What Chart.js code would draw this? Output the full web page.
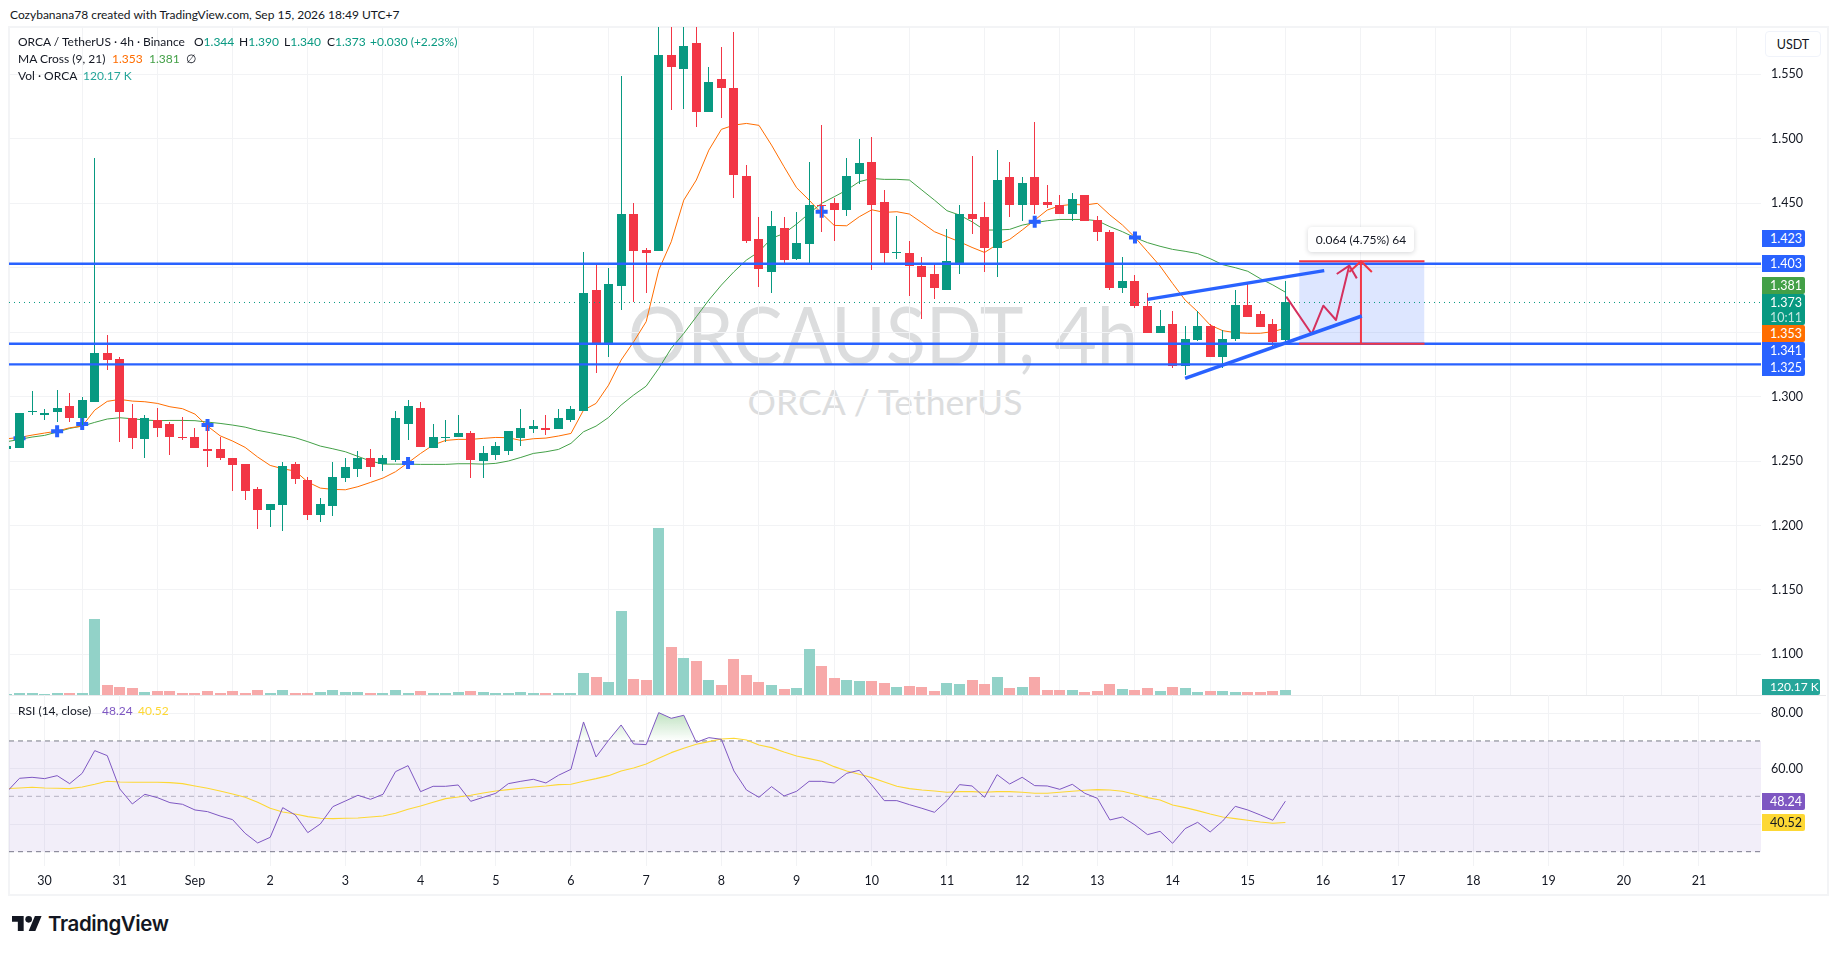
<!DOCTYPE html>
<html>
<head>
<meta charset="utf-8">
<title>ORCAUSDT 4h</title>
<script src="https://cdn.jsdelivr.net/npm/chart.js"></script>
<style>
html, body { margin: 0; background: #fff; overflow: hidden; }
body { width: 1835px; height: 954px; position: relative; font-family: Lato, sans-serif; font-size: 12px; color: #131722; }
canvas { position: absolute; left: 9px; z-index: 2; }
.t { position: absolute; white-space: nowrap; z-index: 3; line-height: 16px; }
.frame { position: absolute; left: 8px; top: 26px; width: 1817px; height: 866px; border: 2px solid #f3f4f6; z-index: 1; }
.sep { position: absolute; left: 9px; top: 695px; width: 1817px; height: 1px; background: #e9eaec; z-index: 1; }
.mark { position: absolute; z-index: 0; white-space: nowrap; color: #dcddde; transform: translateX(-50%); }
.tag { position: absolute; left: 1762px; z-index: 4; color: #fff; font-size: 12.5px; text-align: left; padding-left: 8px; box-sizing: border-box; height: 17px; line-height: 17px; width: 43px; border-radius: 0 2px 2px 0; white-space: nowrap; }
.usdt { position: absolute; left: 1765px; top: 31px; width: 56px; height: 26px; line-height: 26px; box-sizing: border-box; border: 1px solid #f0f3fa; border-radius: 4px; font-size: 12.5px; text-align: center; z-index: 4; background: #fff; }
.tip { position: absolute; left: 1308px; top: 227px; width: 106px; height: 25px; line-height: 25px; text-align: center; background: #fff; border-radius: 4px; box-shadow: 0 1px 5px rgba(19,23,34,.18); font-size: 12px; z-index: 5; }
.logo { position: absolute; left: 12px; top: 916px; z-index: 3; }
.brand { position: absolute; left: 48px; top: 911px; font-family: Inter, sans-serif; font-weight: 600; font-size: 20.5px; line-height: 26px; letter-spacing: -0.4px; color: #131722; z-index: 3; }
.g { color: #089981; } .o { color: #ff6d00; } .m { color: #43a047; } .v { color: #26a69a; } .p { color: #7e57c2; } .y { color: #fdd835; }
</style>
</head>
<body>
<div class="frame"></div>
<div class="sep"></div>

<div class="t" style="left:10px;top:7px">Cozybanana78 created with TradingView.com, Sep 15, 2026 18:49 UTC+7</div>

<div class="t" style="left:18px;top:34px">ORCA / TetherUS · 4h · Binance</div>
<div class="t" style="left:194px;top:34px">O<span class="g">1.344</span></div>
<div class="t" style="left:239px;top:34px">H<span class="g">1.390</span></div>
<div class="t" style="left:284px;top:34px">L<span class="g">1.340</span></div>
<div class="t" style="left:327px;top:34px">C<span class="g">1.373</span></div>
<div class="t g" style="left:370px;top:34px">+0.030 (+2.23%)</div>
<div class="t" style="left:18px;top:51px">MA Cross (9, 21)</div>
<div class="t o" style="left:112px;top:51px">1.353</div>
<div class="t m" style="left:149px;top:51px">1.381</div>
<div class="t" style="left:186px;top:51px">∅</div>
<div class="t" style="left:18px;top:68px">Vol · ORCA</div>
<div class="t v" style="left:83px;top:68px">120.17 K</div>
<div class="t" style="left:18px;top:703px">RSI (14, close)</div>
<div class="t p" style="left:102px;top:703px">48.24</div>
<div class="t y" style="left:138px;top:703px">40.52</div>

<div class="mark" style="left:883px;top:286px;font-size:74px;line-height:96px;transform:translateX(-50%) scaleY(1.08)">ORCAUSDT, 4h</div>
<div class="mark" style="left:885px;top:379px;font-size:35.5px;line-height:46px">ORCA / TetherUS</div>

<div class="usdt">USDT</div>
<div class="tag" style="top:230px;background:#2962ff">1.423</div>
<div class="tag" style="top:255px;background:#2962ff">1.403</div>
<div class="tag" style="top:277px;background:#43a047">1.381</div>
<div class="tag" style="top:294px;height:31px;background:#089981;line-height:15px;padding-top:1px">1.373<br><span style="opacity:.75">10:11</span></div>
<div class="tag" style="top:325px;background:#ff6d00">1.353</div>
<div class="tag" style="top:342px;background:#2962ff">1.341</div>
<div class="tag" style="top:359px;background:#2962ff">1.325</div>
<div class="tag" style="top:679px;width:58px;height:16px;line-height:16px;font-size:12px;background:#26a69a">120.17 K</div>
<div class="tag" style="top:793px;background:#7e57c2">48.24</div>
<div class="tag" style="top:814px;background:#fdd835;color:#131722">40.52</div>
<div class="tip">0.064 (4.75%) 64</div>

<svg class="logo" width="30" height="15" viewBox="0 4 36 18"><path fill="#131722" d="M14 22H7V11H0V4h14v18zM28 22h-8l7.5-18h8L28 22z"/><circle fill="#131722" cx="20" cy="8" r="4"/></svg>
<div class="brand">TradingView</div>

<canvas id="mainPane" width="1817" height="668" style="top:27px"></canvas>
<canvas id="rsiPane" width="1817" height="198" style="top:695px"></canvas>

<script>
const GREEN = "#089981";
const RED = "#f23645";
const BLUE = "#2962ff";
const GRID = "#f2f3f5";

// one bar every 4h, index 0 is the midnight of Aug 30
const FIRST_BAR = -3;
const X_MIN = -2.84;
const X_MAX = 136.95;

const dayTicks = ["30","31","Sep","2","3","4","5","6","7","8","9","10","11","12","13","14","15","16","17","18","19","20","21"];

const opens = [1.259,1.260,1.288,1.286,1.288,1.293,1.283,1.296,1.334,1.329,1.283,1.267,1.282,1.279,1.269,1.269,1.259,1.259,1.252,1.248,1.228,1.212,1.216,1.248,1.235,1.208,1.215,1.237,1.244,1.252,1.248,1.251,1.279,1.291,1.260,1.268,1.269,1.272,1.250,1.255,1.258,1.268,1.275,1.276,1.275,1.282,1.289,1.383,1.340,1.386,1.442,1.414,1.413,1.565,1.554,1.574,1.521,1.546,1.539,1.471,1.422,1.397,1.431,1.407,1.418,1.449,1.450,1.445,1.473,1.482,1.451,1.411,1.411,1.401,1.395,1.383,1.403,1.442,1.439,1.415,1.470,1.449,1.470,1.451,1.449,1.442,1.456,1.437,1.428,1.384,1.390,1.370,1.349,1.356,1.324,1.344,1.355,1.331,1.345,1.371,1.364,1.356,1.344];
const highs = [1.263,1.287,1.304,1.290,1.305,1.303,1.300,1.485,1.348,1.331,1.294,1.286,1.291,1.280,1.284,1.276,1.278,1.269,1.252,1.248,1.230,1.217,1.249,1.249,1.238,1.221,1.249,1.252,1.258,1.259,1.255,1.289,1.297,1.296,1.279,1.282,1.286,1.273,1.262,1.265,1.273,1.290,1.282,1.286,1.290,1.293,1.412,1.404,1.400,1.549,1.450,1.415,1.600,1.600,1.600,1.600,1.556,1.571,1.583,1.480,1.439,1.444,1.439,1.443,1.482,1.511,1.454,1.485,1.500,1.501,1.460,1.440,1.421,1.408,1.404,1.430,1.449,1.487,1.451,1.491,1.482,1.470,1.513,1.464,1.456,1.458,1.456,1.440,1.429,1.408,1.394,1.380,1.367,1.366,1.355,1.366,1.356,1.352,1.383,1.388,1.366,1.360,1.390];
const lows = [1.258,1.260,1.286,1.282,1.280,1.280,1.278,1.296,1.321,1.265,1.259,1.252,1.269,1.255,1.266,1.260,1.245,1.251,1.227,1.220,1.197,1.199,1.196,1.232,1.204,1.203,1.207,1.234,1.238,1.238,1.242,1.249,1.266,1.261,1.260,1.265,1.269,1.237,1.237,1.251,1.255,1.262,1.272,1.270,1.275,1.280,1.289,1.318,1.331,1.367,1.373,1.380,1.413,1.522,1.523,1.509,1.521,1.516,1.454,1.419,1.385,1.380,1.404,1.406,1.404,1.428,1.421,1.440,1.465,1.398,1.404,1.407,1.378,1.360,1.376,1.383,1.395,1.426,1.397,1.393,1.439,1.436,1.442,1.446,1.442,1.436,1.436,1.421,1.383,1.380,1.369,1.349,1.349,1.322,1.317,1.343,1.331,1.322,1.343,1.362,1.354,1.338,1.340];
const closes = [1.262,1.287,1.289,1.287,1.291,1.283,1.297,1.334,1.328,1.288,1.268,1.283,1.276,1.269,1.268,1.260,1.258,1.252,1.247,1.227,1.212,1.217,1.246,1.236,1.208,1.217,1.238,1.245,1.252,1.245,1.252,1.283,1.293,1.261,1.269,1.269,1.272,1.251,1.256,1.262,1.273,1.276,1.277,1.274,1.283,1.290,1.380,1.340,1.387,1.442,1.413,1.411,1.565,1.556,1.572,1.521,1.544,1.539,1.472,1.421,1.399,1.432,1.406,1.419,1.449,1.448,1.445,1.471,1.481,1.449,1.411,1.412,1.401,1.393,1.384,1.405,1.442,1.438,1.415,1.468,1.449,1.466,1.449,1.449,1.442,1.453,1.436,1.428,1.384,1.390,1.370,1.349,1.355,1.324,1.345,1.355,1.331,1.345,1.371,1.362,1.354,1.342,1.373];
const volumes = [24,48,48,24,48,48,48,1824,240,192,168,72,96,96,48,48,96,48,96,48,120,48,120,48,48,72,120,72,72,48,48,120,48,96,48,48,72,96,72,48,48,72,48,48,48,48,528,432,312,2016,384,360,4008,1152,888,816,360,240,864,480,312,240,144,168,1104,696,408,360,336,336,288,192,216,192,96,288,264,360,264,432,168,192,432,120,120,120,72,96,264,144,120,168,96,192,168,72,96,96,72,72,72,96,120.17];
const ma9 = [1.2673,1.2683,1.2701,1.2717,1.2732,1.2758,1.2771,1.2895,1.2963,1.2978,1.2965,1.2960,1.2947,1.2921,1.2906,1.2864,1.2771,1.2696,1.2655,1.2606,1.2531,1.2466,1.2440,1.2422,1.2337,1.2290,1.2280,1.2277,1.2301,1.2334,1.2368,1.2417,1.2487,1.2559,1.2624,1.2660,1.2668,1.2668,1.2676,1.2683,1.2681,1.2660,1.2673,1.2678,1.2694,1.2714,1.2895,1.2947,1.3089,1.3283,1.3425,1.3581,1.3981,1.4201,1.4524,1.4680,1.4912,1.5073,1.5106,1.5119,1.5104,1.4951,1.4783,1.4620,1.4524,1.4421,1.4328,1.4325,1.4395,1.4449,1.4429,1.4434,1.4416,1.4349,1.4279,1.4240,1.4201,1.4157,1.4118,1.4180,1.4219,1.4292,1.4369,1.4447,1.4480,1.4491,1.4486,1.4499,1.4409,1.4331,1.4235,1.4124,1.4013,1.3878,1.3749,1.3659,1.3555,1.3511,1.3496,1.3491,1.3491,1.3504,1.353];
const ma21 = [1.2650,1.2668,1.2686,1.2699,1.2725,1.2753,1.2771,1.2800,1.2826,1.2836,1.2828,1.2818,1.2813,1.2815,1.2815,1.2813,1.2802,1.2792,1.2779,1.2763,1.2738,1.2720,1.2701,1.2681,1.2650,1.2616,1.2595,1.2572,1.2536,1.2500,1.2476,1.2476,1.2476,1.2474,1.2474,1.2474,1.2479,1.2479,1.2476,1.2482,1.2500,1.2528,1.2559,1.2572,1.2590,1.2637,1.2727,1.2771,1.2838,1.2934,1.3012,1.3081,1.3218,1.3374,1.3490,1.3619,1.3749,1.3865,1.3968,1.4059,1.4124,1.4227,1.4266,1.4338,1.4421,1.4499,1.4550,1.4602,1.4667,1.4692,1.4685,1.4685,1.4680,1.4602,1.4524,1.4442,1.4408,1.4356,1.4292,1.4292,1.4297,1.4330,1.4349,1.4364,1.4374,1.4374,1.4374,1.4364,1.4318,1.4279,1.4233,1.4194,1.4166,1.4142,1.4127,1.4109,1.4070,1.4023,1.4000,1.3972,1.3915,1.3866,1.381];
const rsi = [51.69,56.51,56.87,56.39,57.47,54.58,58.32,66.5,64.7,52.66,47.24,50.73,49.52,47.72,47.12,45.07,44.47,42.9,41.58,36.64,33.15,35.19,45.91,43.26,36.88,40.01,46.27,48.32,50.37,48.92,50.73,58.92,61.08,51.69,53.62,53.62,54.1,48.2,49.64,51.09,54.58,55.42,56.15,54.82,57.59,59.76,76.86,64.22,70.24,75.78,68.91,68.67,80.23,78.18,79.27,69.51,71.2,70.6,59.16,52.29,49.64,53.5,50.13,51.81,55.42,55.42,54.82,58.32,59.4,54.1,48.44,48.44,47,45.67,44.23,48.44,54.22,53.74,49.64,57.83,54.46,56.87,53.86,53.74,52.53,54.34,51.09,49.28,41.46,42.54,39.65,36.16,37.36,33.03,38.33,40.61,37.12,41.09,46.39,45.07,43.26,41.34,48.24];
const rsiMa = [52.78,53.02,53.26,53.02,52.9,52.78,53.38,54.34,55.42,55.18,55.06,55.06,55.06,54.94,54.58,53.74,52.9,51.93,50.85,49.64,47.84,45.67,44.35,43.62,42.66,42.06,41.94,42.06,42.18,42.54,42.9,43.86,45.31,46.51,47.84,49.16,49.76,50.37,51.21,51.93,52.42,52.9,53.38,53.74,54.22,54.34,55.42,56.39,57.47,59.16,60.24,61.69,63.73,65.78,67.35,68.79,69.75,70.72,70.96,70.36,68.55,67.59,66.02,64.58,63.61,62.65,60.72,59.16,57.95,56.75,55.18,53.62,52.78,52.29,51.93,51.45,51.69,51.69,51.45,51.69,51.69,51.45,51.09,51.09,51.45,51.81,52.17,52.42,52.29,51.81,50.73,49.52,48.68,46.88,45.91,44.83,43.62,42.54,41.94,41.34,40.73,40.25,40.52];

// ma cross marks
const crossBars = [-2,1,3,13,29,62,79,87];
const crossPrices = [1.2676,1.2732,1.2787,1.2779,1.2484,1.4434,1.4356,1.4235];

// levels and hand drawn stuff
const levels = [1.403,1.341,1.325];
const lastPrice = 1.373;
const upperTrend = [[88,1.3754],[102.1,1.3977]];
const lowerTrend = [[91,1.3141],[105.1,1.3625]];
const rangeBox = [100.1,110.1,1.341,1.405];
const rangeArrow = [[105.03,1.341],[105.03,1.405]];
const rangeHead = [[104.1,1.3966],[105.03,1.405],[105.9,1.3966]];
const pathPoints = [[99.07,1.3775],[101.1,1.3485],[102.03,1.3705],[103.04,1.3594],[104.1,1.4016]];
const pathHead = [[103.1,1.3951],[104.1,1.4016],[104.7,1.3917]];

const barX = opens.map((o, i) => i + FIRST_BAR);
const isUp = opens.map((o, i) => closes[i] >= o);
const xy = (values) => values.map((v, i) => ({x: barX[i], y: v}));
const pts = (list) => list.map((p) => ({x: p[0], y: p[1]}));

function line(data, color, width, order, extra) {
    return Object.assign({
        type: "line", data: data, borderColor: color, borderWidth: width, order: order,
        pointRadius: 0, tension: 0, fill: false, borderJoinStyle: "round"
    }, extra || {});
}

// snap bars to whole pixels, otherwise 1px wicks come out blurred
const snapBars = {
    id: "snapBars",
    beforeDatasetsDraw(chart) {
        chart.getSortedVisibleDatasetMetas().forEach((meta) => {
            if (meta.type != "bar") { return; }
            meta.data.forEach((el) => {
                el.x = Math.floor(el.x) + 0.5;
                el.y = Math.round(el.y);
                el.base = Math.round(el.base);
                if (el.base == el.y) { el.base = el.y + 1; }
            });
        });
    }
};

Chart.defaults.font.family = "Lato, sans-serif";
Chart.defaults.font.size = 12.5;
Chart.defaults.color = "#131722";

// tick labels must not push the plot area in, panes have to line up exactly
function noPadding(s) {
    s.paddingTop = 0;
    s.paddingBottom = 0;
    s.paddingLeft = 0;
    s.paddingRight = 0;
}

function xScale(showLabels) {
    return {
        type: "linear", min: X_MIN, max: X_MAX, offset: false,
        grid: {color: GRID, drawTicks: false},
        border: {display: false},
        afterFit: (s) => { s.height = showLabels ? 27 : 0; noPadding(s); },
        ticks: {
            display: showLabels, stepSize: 6, includeBounds: false, autoSkip: false, maxRotation: 0, padding: 7,
            callback: (v) => dayTicks[v / 6]
        }
    };
}

function yScale(min, max, step, digits) {
    return {
        type: "linear", position: "right", min: min, max: max,
        grid: {color: GRID, drawTicks: false},
        border: {display: false},
        afterFit: (s) => { s.width = 65; noPadding(s); },
        ticks: {stepSize: step, includeBounds: false, padding: 10, crossAlign: "near", callback: (v) => v.toFixed(digits)}
    };
}

const commonOptions = {
    responsive: false,
    animation: false,
    devicePixelRatio: 1,
    layout: {padding: 0, autoPadding: false},
    events: [],
    plugins: {legend: {display: false}, tooltip: {enabled: false}},
    datasets: {bar: {grouped: false, inflateAmount: 0, borderWidth: 0}}
};

// lower order is drawn later: drawings, candles, cross marks, mas, volume
new Chart(document.getElementById("mainPane"), {
    type: "bar",
    plugins: [snapBars],
    data: {datasets: [
        line(pts(upperTrend), BLUE, 3.5, 1),
        line(pts(lowerTrend), BLUE, 3.5, 1),
        line(pts(pathPoints), "#d5305e", 2, 1),
        line(pts(pathHead), "#d5305e", 2, 1),
        line(pts(rangeArrow), RED, 2, 1),
        line(pts(rangeHead), RED, 2, 1),
        line([{x: rangeBox[0], y: rangeBox[3]}, {x: rangeBox[1], y: rangeBox[3]}], RED, 2, 1),
        line([{x: rangeBox[0], y: rangeBox[2]}, {x: rangeBox[1], y: rangeBox[2]}], RED, 2, 1),
        line([{x: rangeBox[0], y: rangeBox[3]}, {x: rangeBox[1], y: rangeBox[3]}], "rgba(0,0,0,0)", 0, 3, {fill: {target: {value: rangeBox[2]}}, backgroundColor: "rgba(41,98,255,0.16)"}),
        ...levels.map((v) => line([{x: X_MIN, y: v}, {x: X_MAX, y: v}], BLUE, 2.4, 2)),
        line([{x: X_MIN, y: lastPrice}, {x: X_MAX, y: lastPrice}], GREEN, 1, 2, {borderDash: [1, 4]}),
        {data: barX.map((x, i) => ({x: x, y: [opens[i], closes[i]]})), backgroundColor: isUp.map((u) => u ? GREEN : RED), barThickness: 9, order: 4},
        {data: barX.map((x, i) => ({x: x, y: [lows[i], highs[i]]})), backgroundColor: isUp.map((u) => u ? GREEN : RED), barThickness: 1, order: 5},
        {type: "scatter", data: crossBars.map((b, i) => ({x: b, y: crossPrices[i]})), order: 6, pointStyle: "cross", pointRadius: 6, pointBorderColor: BLUE, pointBorderWidth: 4, showLine: false},
        line(xy(ma9), "#ff6d00", 1, 7),
        line(xy(ma21), "#43a047", 1, 7),
        {data: xy(volumes), yAxisID: "yVol", backgroundColor: isUp.map((u) => u ? "#92d2c8" : "#f7a9a9"), barThickness: 11, order: 8}
    ]},
    options: Object.assign({}, commonOptions, {
        scales: {
            x: xScale(false),
            y: yScale(1.0685, 1.5867, 0.05, 3),
            yVol: {type: "linear", position: "right", display: false, min: 0, max: 16032}
        }
    })
});

const rsiCanvas = document.getElementById("rsiPane");
const overbought = rsiCanvas.getContext("2d").createLinearGradient(0, 18, 0, 46);
overbought.addColorStop(0, "rgba(76,175,80,0.35)");
overbought.addColorStop(1, "rgba(76,175,80,0)");

new Chart(rsiCanvas, {
    type: "line",
    plugins: [],
    data: {datasets: [
        line(xy(rsi), "#7e57c2", 1, 0, {fill: {target: {value: 70}, above: overbought, below: "rgba(0,0,0,0)"}}),
        line(xy(rsiMa), "#fdd835", 1.1, 1),
        line([{x: X_MIN, y: 70}, {x: X_MAX, y: 70}], "#787b86", 1, 2, {borderDash: [5, 4], fill: {target: {value: 30}}, backgroundColor: "rgba(126,87,194,0.1)"}),
        line([{x: X_MIN, y: 50}, {x: X_MAX, y: 50}], "rgba(120,123,134,0.5)", 1, 2, {borderDash: [5, 4]}),
        line([{x: X_MIN, y: 30}, {x: X_MAX, y: 30}], "#787b86", 1, 2, {borderDash: [5, 4]})
    ]},
    options: Object.assign({}, commonOptions, {
        scales: {
            x: xScale(true),
            y: yScale(24.83, 86.6, 20, 2)
        }
    })
});
</script>
</body>
</html>
